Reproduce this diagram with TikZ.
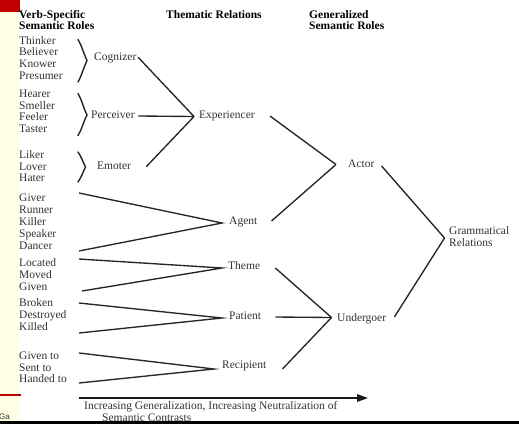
\documentclass[tikz,border=0pt]{standalone}
\usepackage{fontspec}
\setmainfont{Liberation Serif}
\setsansfont{Liberation Sans}
\usetikzlibrary{arrows.meta}
\definecolor{strip}{HTML}{FFFFE5}
\definecolor{slidered}{HTML}{C00000}
\begin{document}
\begin{tikzpicture}[x=1pt,y=-1pt,
  lbl/.style={font=\fontsize{11.5}{11.8}\selectfont, text=black!80, inner sep=0pt,
              text height=7.6pt, text depth=2.5pt, anchor=west},
  hdr/.style={font=\fontsize{11.5}{11.8}\selectfont\bfseries, text=black, inner sep=0pt,
              text height=7.6pt, text depth=2.5pt, anchor=west},
  conn/.style={line width=1.35pt, draw=black!85},
  bracestyle/.style={line width=1.4pt, draw=black!85, line cap=round},
]
\useasboundingbox (0,0) rectangle (519,424);
\fill[white] (0,0) rectangle (519,424);
% slide chrome
\fill[strip] (0,0) rectangle (19,421);
\fill[slidered] (0,0) rectangle (20,12);
\draw[slidered, line width=1.6pt] (0,395) -- (21,395);
\node[font=\sffamily\fontsize{8}{9}\selectfont, text=black!80, inner sep=0pt, anchor=west] (ga) at (-1,416.5) {Ga};

% headers
\node[hdr] (h1a) at (19,15.7) {Verb-Specific};
\node[hdr] (h1b) at (19,27.3) {Semantic Roles};
\node[hdr] (h2)  at (166,15.7) {Thematic Relations};
\node[hdr] (h3a) at (309,15.7) {Generalized};
\node[hdr] (h3b) at (309,27.3) {Semantic Roles};

% verb-specific roles
\foreach \w/\y [count=\i] in {Thinker/41.7,Believer/53.3,Knower/65,Presumer/77.3,
  Hearer/94.5,Smeller/106.7,Feeler/118.3,Taster/130,
  Liker/156,Lover/167.7,Hater/179.3,
  Giver/199,Runner/210.5,Killer/222.5,Speaker/234.7,Dancer/246.5,
  Located/264,Moved/276,Given/288,
  Broken/304,Destroyed/316,Killed/328,
  Given to/357,Sent to/368.5,Handed to/379.5}
  \node[lbl] (w\i) at (19,\y) {\w};

% braces
\draw[bracestyle] (78,39.5) .. controls (82,46) and (83,52) .. (87,60.5) .. controls (83,69) and (82,75) .. (78,82);
\draw[bracestyle] (78,93.5) .. controls (82,100) and (83,107) .. (87,115) .. controls (83,123) and (82,129) .. (78,135.5);
\draw[bracestyle] (78,152) .. controls (81.5,157) and (82.5,161) .. (85.5,167) .. controls (82.5,173) and (81.5,177) .. (78,182);

% thematic-level nodes
\node[lbl] (cog) at (94,57.7) {Cognizer};
\node[lbl] (per) at (91,116) {Perceiver};
\node[lbl] (emo) at (97,166.7) {Emoter};
\node[lbl] (exp) at (199,116) {Experiencer};
\node[lbl] (agt) at (229,222) {Agent};
\node[lbl] (thm) at (228,267) {Theme};
\node[lbl] (pat) at (229,317) {Patient};
\node[lbl] (rec) at (222,366) {Recipient};
\node[lbl] (act) at (348,165) {Actor};
\node[lbl] (und) at (337,319) {Undergoer};
\node[lbl] (gr1) at (449,232) {Grammatical};
\node[lbl] (gr2) at (449,244) {Relations};

% junction points
\coordinate (vexp) at (194,116.5);
\coordinate (vact) at (336,164.5);
\coordinate (vund) at (331.5,317.5);
\coordinate (vgr)  at (444.5,238);
\coordinate (vagt) at (222,223);
\coordinate (vthm) at (222,268);
\coordinate (vpat) at (222,318);
\coordinate (vrec) at (214,369);

% fan ends on the left
\coordinate (a1) at (79,193);  \coordinate (a2) at (79,251);
\coordinate (t1) at (79,259);  \coordinate (t2) at (82,291);
\coordinate (p1) at (79,303);  \coordinate (p2) at (79,333);
\coordinate (r1) at (79,353);  \coordinate (r2) at (79,383);

\draw[conn] (a1) -- (vagt) -- (a2);
\draw[conn] (t1) -- (vthm) -- (t2);
\draw[conn] (p1) -- (vpat) -- (p2);
\draw[conn] (r1) -- (vrec) -- (r2);

\draw[conn] ([xshift=1.5pt,yshift=0.5pt]cog.east) -- (vexp);
\draw[conn] ([xshift=3.6pt]per.east) -- (vexp);
\draw[conn] ([xshift=15pt]emo.east) -- (vexp);

\draw[conn] ([xshift=15pt]exp.east) -- (vact);
\draw[conn] ([xshift=14pt,yshift=1pt]agt.east) -- (vact);

\draw[conn] ([xshift=15pt,yshift=-1pt]thm.east) -- (vund);
\draw[conn] ([xshift=14pt]pat.east) -- (vund);
\draw[conn] ([xshift=16pt,yshift=-3pt]rec.east) -- (vund);

\draw[conn] ([xshift=7pt,yshift=-1pt]act.east) -- (vgr);
\draw[conn] ([xshift=8pt,yshift=2pt]und.east) -- (vgr);

% bottom arrow
\coordinate (arrS) at (79,398);
\coordinate (arrE) at (368,398);
\draw[line width=1.6pt, draw=black!90, -{Triangle[length=11pt,width=7.5pt]}] (arrS) -- (arrE);
\node[lbl] (cap1) at (84,407) {Increasing Generalization, Increasing Neutralization of};
\node[lbl] (cap2) at (102,418.8) {Semantic Contrasts};

\fill[black] (0,421) rectangle (519,424);
\end{tikzpicture}
\end{document}
